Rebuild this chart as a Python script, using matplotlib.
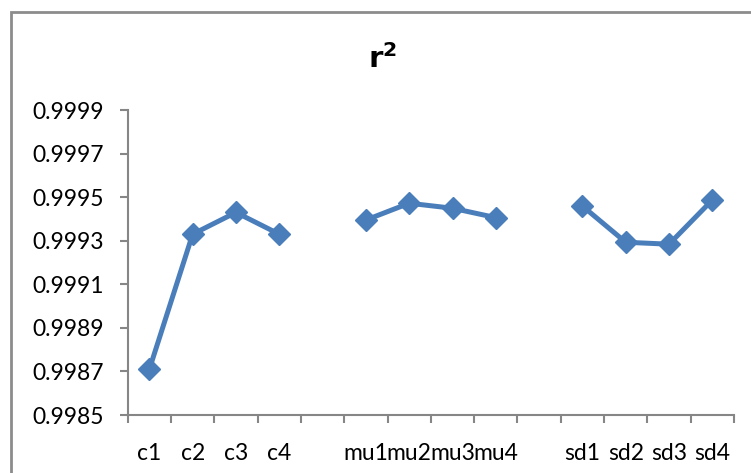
import numpy as np
import matplotlib
matplotlib.use('Agg')
import matplotlib.pyplot as plt
from matplotlib.patches import Rectangle

# categories (blank slots separate the groups)
categorias = ['c1', 'c2', 'c3', 'c4', '', 'mu1', 'mu2', 'mu3', 'mu4', '',
              'sd1', 'sd2', 'sd3', 'sd4']
r2 = [0.99871, 0.99933, 0.99943, 0.99933, np.nan,
      0.999395, 0.999472, 0.999449, 0.999406, np.nan,
      0.999459, 0.999293, 0.999284, 0.999487]
yticks = [0.9985, 0.9987, 0.9989, 0.9991, 0.9993, 0.9995, 0.9997, 0.9999]

plt.rcParams['font.family'] = ['Lato', 'DejaVu Sans']

fig = plt.figure(figsize=(7.51, 4.73), dpi=100)
ax = fig.add_axes([127.7/751, 1 - 415/473, (734 - 127.7)/751, (415 - 110)/473])

# marco del grafico (recortado a la derecha y abajo)
fig.patches.append(Rectangle((11/751, -0.1), 1.2, 1 - 12/473 + 0.1,
                             transform=fig.transFigure, fill=False,
                             edgecolor='#8c8c8c', linewidth=2))

x = np.arange(len(categorias))
ax.plot(x, r2, color='#4A7EBB', linewidth=3.6, marker='D', markersize=11)

ax.set_xlim(-0.5, len(categorias) - 0.5)
ax.set_ylim(0.9985, 0.9999)
ax.set_yticks(yticks)
ax.set_yticklabels(['%.4f' % v for v in yticks])
ax.set_xticks(x)
ax.set_xticklabels(categorias)
ax.set_xticks(np.arange(len(categorias) + 1) - 0.5, minor=True)
ax.tick_params(axis='x', which='major', length=0, pad=20, labelsize=16.5)
ax.tick_params(axis='x', which='minor', length=6, width=1.5, color='#868686', direction='out')
ax.tick_params(axis='y', length=6, width=1.5, color='#868686', labelsize=16.5, pad=11)

for s in ['top', 'right']:
    ax.spines[s].set_visible(False)
for s in ['left', 'bottom']:
    ax.spines[s].set_color('#868686')
    ax.spines[s].set_linewidth(1.5)

fig.text(383/751, 1 - 58/473, r'$\mathbf{r^2}$', ha='center', va='center', fontsize=21,
         fontweight='bold')

plt.savefig('out.png', dpi=100)
plt.close()
